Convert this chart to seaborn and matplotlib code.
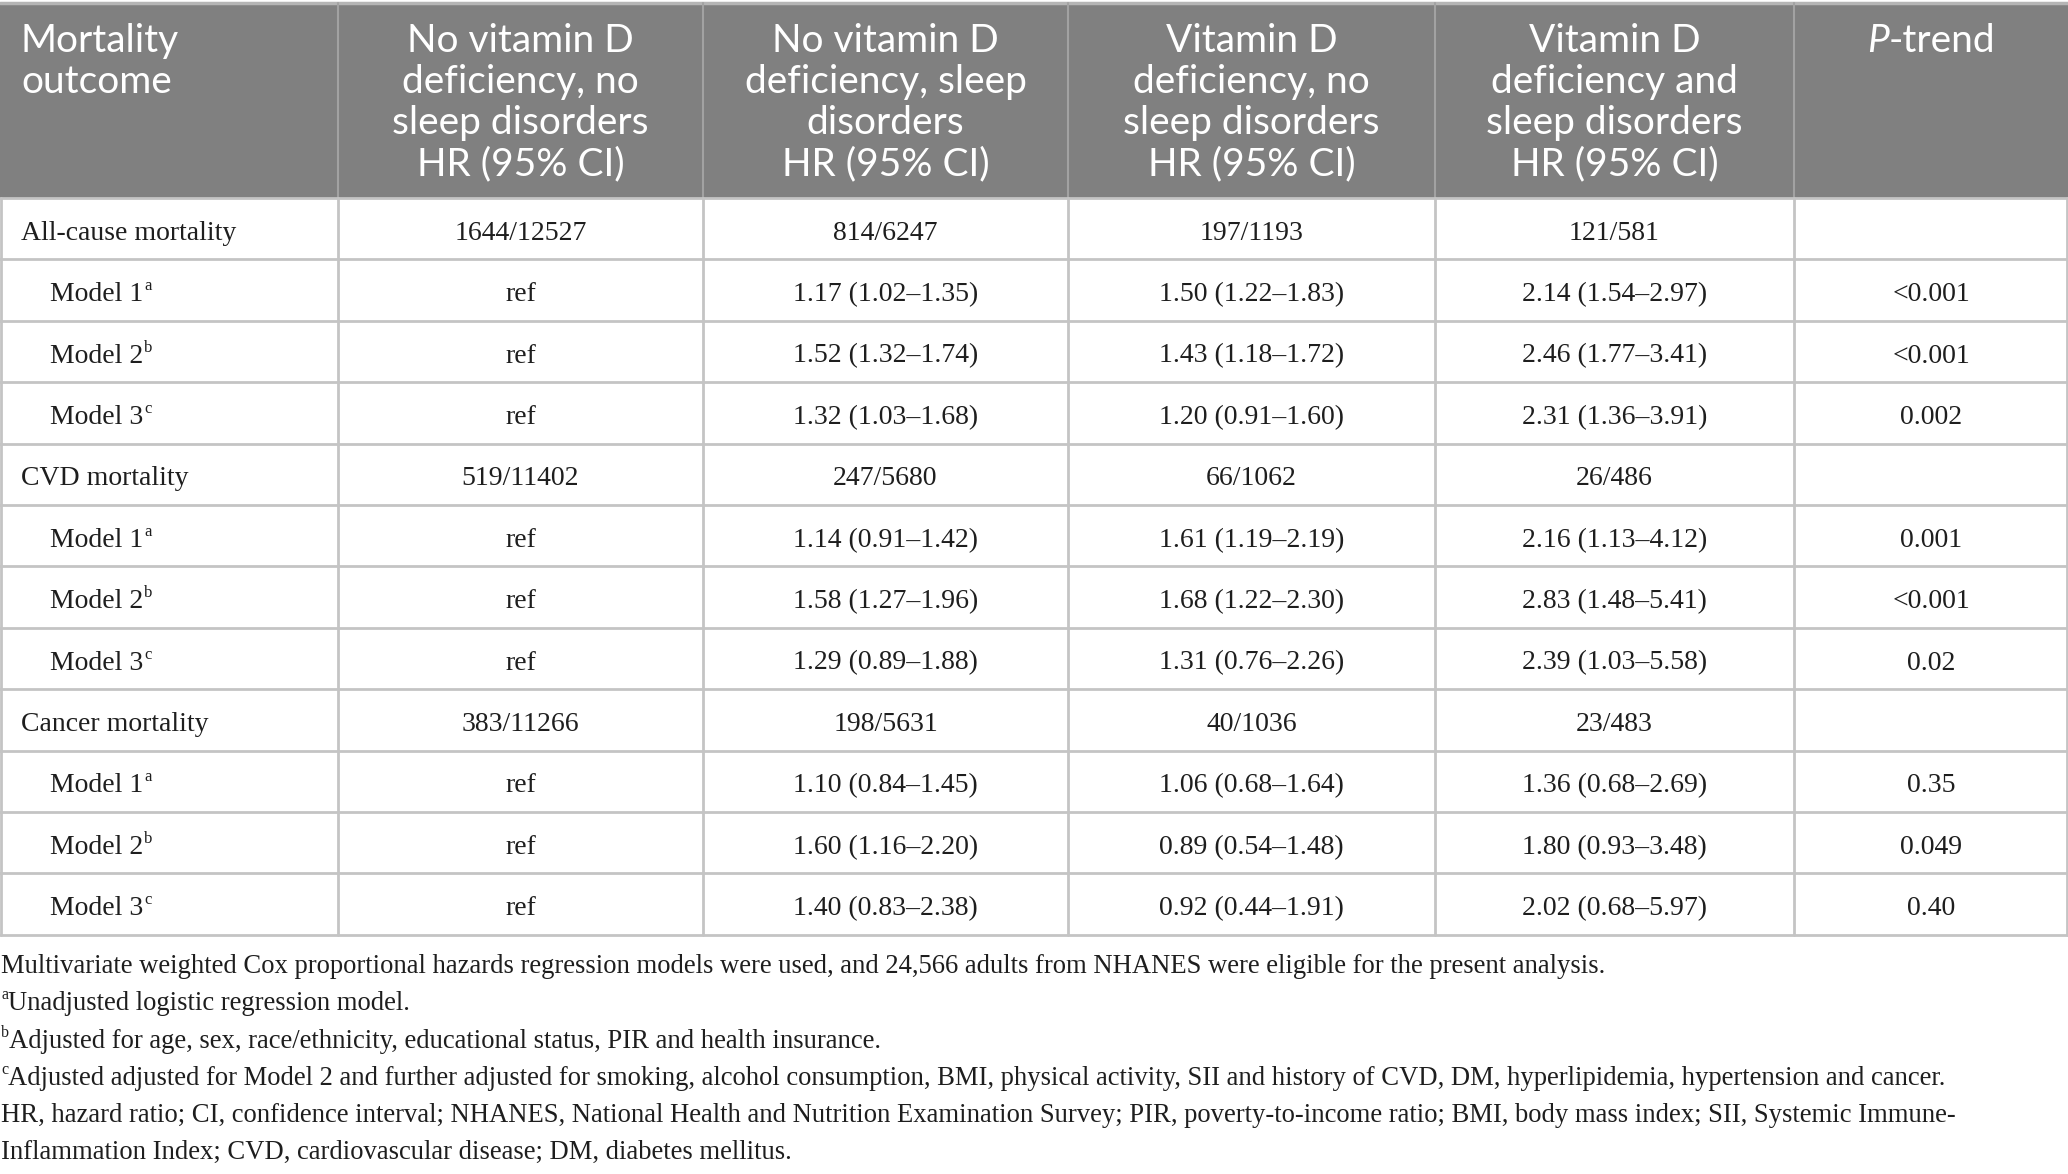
import matplotlib
matplotlib.use("Agg")
import matplotlib.pyplot as plt
import seaborn as sns
from matplotlib.patches import Rectangle

# ---- table content ----
headers = [
    ["Mortality", "outcome"],
    ["No vitamin D", "deficiency, no", "sleep disorders", "HR (95% CI)"],
    ["No vitamin D", "deficiency, sleep", "disorders", "HR (95% CI)"],
    ["Vitamin D", "deficiency, no", "sleep disorders", "HR (95% CI)"],
    ["Vitamin D", "deficiency and", "sleep disorders", "HR (95% CI)"],
]
ptrend_header = ("P", "-trend")

row_labels = ["All-cause mortality", "Model 1", "Model 2", "Model 3",
              "CVD mortality", "Model 1", "Model 2", "Model 3",
              "Cancer mortality", "Model 1", "Model 2", "Model 3"]
row_sups = ["", "a", "b", "c", "", "a", "b", "c", "", "a", "b", "c"]

no_def_no_sleep = ["1644/12527", "ref", "ref", "ref",
                   "519/11402", "ref", "ref", "ref",
                   "383/11266", "ref", "ref", "ref"]
no_def_sleep = ["814/6247", "1.17 (1.02–1.35)", "1.52 (1.32–1.74)", "1.32 (1.03–1.68)",
                "247/5680", "1.14 (0.91–1.42)", "1.58 (1.27–1.96)", "1.29 (0.89–1.88)",
                "198/5631", "1.10 (0.84–1.45)", "1.60 (1.16–2.20)", "1.40 (0.83–2.38)"]
def_no_sleep = ["197/1193", "1.50 (1.22–1.83)", "1.43 (1.18–1.72)", "1.20 (0.91–1.60)",
                "66/1062", "1.61 (1.19–2.19)", "1.68 (1.22–2.30)", "1.31 (0.76–2.26)",
                "40/1036", "1.06 (0.68–1.64)", "0.89 (0.54–1.48)", "0.92 (0.44–1.91)"]
def_sleep = ["121/581", "2.14 (1.54–2.97)", "2.46 (1.77–3.41)", "2.31 (1.36–3.91)",
             "26/486", "2.16 (1.13–4.12)", "2.83 (1.48–5.41)", "2.39 (1.03–5.58)",
             "23/483", "1.36 (0.68–2.69)", "1.80 (0.93–3.48)", "2.02 (0.68–5.97)"]
p_trend = ["", "<0.001", "<0.001", "0.002",
           "", "0.001", "<0.001", "0.02",
           "", "0.35", "0.049", "0.40"]

footnotes = [
    ("", "Multivariate weighted Cox proportional hazards regression models were used, and 24,566 adults from NHANES were eligible for the present analysis."),
    ("a", "Unadjusted logistic regression model."),
    ("b", "Adjusted for age, sex, race/ethnicity, educational status, PIR and health insurance."),
    ("c", "Adjusted adjusted for Model 2 and further adjusted for smoking, alcohol consumption, BMI, physical activity, SII and history of CVD, DM, hyperlipidemia, hypertension and cancer."),
    ("", "HR, hazard ratio; CI, confidence interval; NHANES, National Health and Nutrition Examination Survey; PIR, poverty-to-income ratio; BMI, body mass index; SII, Systemic Immune-"),
    ("", "Inflammation Index; CVD, cardiovascular disease; DM, diabetes mellitus."),
]

# ---- layout (pixels) ----
W, H = 2068, 1174
col_edges = [0, 338, 703, 1068, 1435, 1794, 2068]
header_top, header_bottom = 3, 198
row_h = 61.4
n_rows = len(row_labels)
table_bottom = header_bottom + n_rows * row_h

HEAD_FONT = "Lato"
BODY_FONT = "Liberation Serif"
head_size = 28
body_size = 20
foot_size = 19.2
ink = "#1e1e1e"

sns.set_theme(style="white")
fig = plt.figure(figsize=(W / 100, H / 100), dpi=100)
ax = fig.add_axes([0, 0, 1, 1])
ax.set_xlim(0, W)
ax.set_ylim(H, 0)
ax.axis("off")
renderer = fig.canvas.get_renderer()
inv = ax.transData.inverted()


def text_width(t):
    bb = t.get_window_extent(renderer=renderer)
    (x0, _), (x1, _) = inv.transform([[bb.x0, bb.y0], [bb.x1, bb.y1]])
    return x1 - x0


def sup_text(x, y, sup, main, size, family, sup_first=False):
    if sup_first:
        s = ax.text(x, y - size * 0.55, sup, fontsize=size * 0.6, family=family,
                    color=ink, ha="left", va="baseline")
        x += text_width(s)
        ax.text(x, y, main, fontsize=size, family=family, color=ink,
                ha="left", va="baseline")
    else:
        m = ax.text(x, y, main, fontsize=size, family=family, color=ink,
                    ha="left", va="baseline")
        if sup:
            ax.text(x + text_width(m) + 1, y - size * 0.55, sup, fontsize=size * 0.6,
                    family=family, color=ink, ha="left", va="baseline")


# header background
ax.add_patch(Rectangle((0, header_top), W, header_bottom - header_top,
                       facecolor="#808080", edgecolor="none"))
ax.plot([0, W], [header_top, header_top], color="#b5b5b5", lw=2.5)
for xe in col_edges[1:-1]:
    ax.plot([xe, xe], [header_top, header_bottom], color="#a2a2a2", lw=1.5)

# body grid
for i in range(n_rows + 1):
    yy = header_bottom + i * row_h
    ax.plot([0, W], [yy, yy], color="#c4c4c4", lw=2)
for xe in col_edges:
    xx = min(max(xe, 1), W - 1)
    ax.plot([xx, xx], [header_bottom, table_bottom], color="#c4c4c4", lw=2)

# header text
head_baselines = [52, 93, 134, 175]
for ci, lines in enumerate(headers):
    for li, line in enumerate(lines):
        if ci == 0:
            ax.text(21, head_baselines[li], line, fontsize=head_size, family=HEAD_FONT,
                    color="white", ha="left", va="baseline")
        else:
            xc = (col_edges[ci] + col_edges[ci + 1]) / 2
            ax.text(xc, head_baselines[li], line, fontsize=head_size, family=HEAD_FONT,
                    color="white", ha="center", va="baseline")

# P-trend header: italic P + regular rest, centred together
xc = (col_edges[5] + col_edges[6]) / 2
tp = ax.text(0, head_baselines[0], ptrend_header[0], fontsize=head_size, family=HEAD_FONT,
             style="italic", color="white", ha="left", va="baseline")
tr = ax.text(0, head_baselines[0], ptrend_header[1], fontsize=head_size, family=HEAD_FONT,
             color="white", ha="left", va="baseline")
wp, wr = text_width(tp), text_width(tr)
tp.set_x(xc - (wp + wr) / 2)
tr.set_x(xc - (wp + wr) / 2 + wp)

# body
columns = [no_def_no_sleep, no_def_sleep, def_no_sleep, def_sleep, p_trend]
for ri in range(n_rows):
    yb = header_bottom + ri * row_h + 0.68 * row_h
    indent = 21 if row_sups[ri] == "" else 50
    sup_text(indent, yb, row_sups[ri], row_labels[ri], body_size, BODY_FONT)
    for ci, col in enumerate(columns):
        xc = (col_edges[ci + 1] + col_edges[ci + 2]) / 2
        ax.text(xc, yb, col[ri], fontsize=body_size, family=BODY_FONT, color=ink,
                ha="center", va="baseline")

# footnotes
foot_baselines = [973, 1010, 1048, 1085, 1122, 1159]
for (sup, txt), yb in zip(footnotes, foot_baselines):
    if sup:
        sup_text(1, yb, sup, txt, foot_size, BODY_FONT, sup_first=True)
    else:
        ax.text(1, yb, txt, fontsize=foot_size, family=BODY_FONT, color=ink,
                ha="left", va="baseline")

fig.savefig("out.png", dpi=100)
